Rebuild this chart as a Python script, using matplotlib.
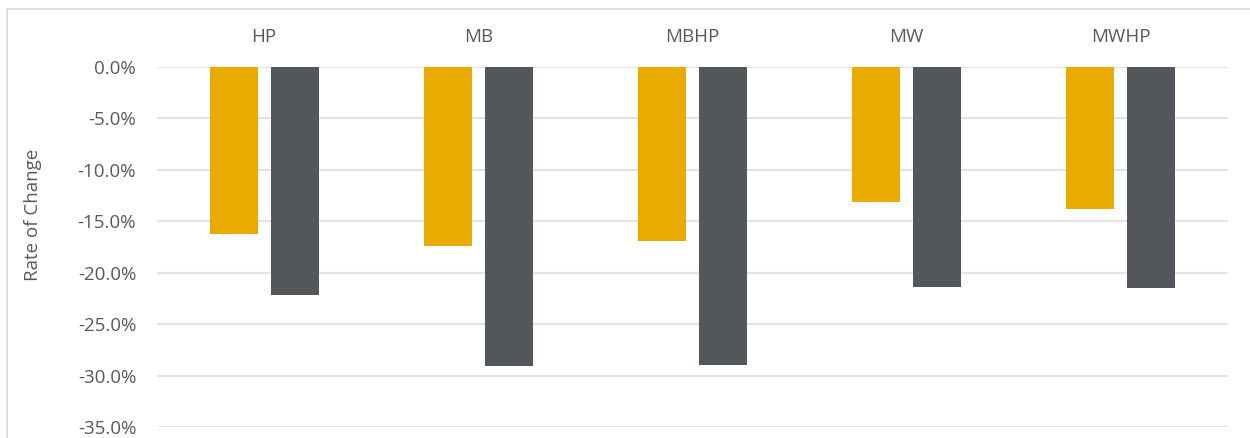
import matplotlib.pyplot as plt
from matplotlib.lines import Line2D
import numpy as np

categories = ["HP", "MB", "MBHP", "MW", "MWHP"]
series_a = [-16.2, -17.4, -16.9, -13.1, -13.8]   # yellow
series_b = [-22.2, -29.1, -29.0, -21.4, -21.5]   # dark gray
yticks = [0, -5, -10, -15, -20, -25, -30, -35]

plt.rcParams['font.family'] = ['Open Sans', 'DejaVu Sans']

fig = plt.figure(figsize=(12.5, 4.38), dpi=100)
ax = fig.add_axes([157 / 1250, 1 - 427 / 438, (1228 - 157) / 1250, 360 / 438])

x = np.arange(len(categories))
w = 0.224
ax.bar(x - 0.142, series_a, width=w, color='#EAAB00', zorder=3)
ax.bar(x + 0.142, series_b, width=w, color='#53565A', zorder=3)

ax.set_xlim(-0.5, len(categories) - 0.5)
ax.set_ylim(-35, 0)
ax.set_yticks(yticks)
ax.set_yticklabels(["%.1f%%" % v for v in yticks])
ax.set_xticks(x)
ax.set_xticklabels(categories)
ax.xaxis.tick_top()
ax.tick_params(axis='both', length=0, labelsize=13.5, colors='#595959')
ax.tick_params(axis='y', pad=15)
ax.tick_params(axis='x', pad=15)
ax.yaxis.grid(True, color='#E3E3E3', linewidth=1.5, zorder=0)
for s in ax.spines.values():
    s.set_visible(False)

ax.set_ylabel("Rate of Change", fontsize=13.5, color='#595959')
ax.yaxis.set_label_coords(-(157 - 42) / 1071, (427 - 215) / 360)

# chart frame (top and left edges visible)
fig.add_artist(Line2D([7 / 1250, 7 / 1250], [0, 1 - 9 / 438], color='#D9D9D9', linewidth=1.2))
fig.add_artist(Line2D([7 / 1250, 1], [1 - 9 / 438, 1 - 9 / 438], color='#D9D9D9', linewidth=1.2))

fig.savefig("out.png", dpi=100)
